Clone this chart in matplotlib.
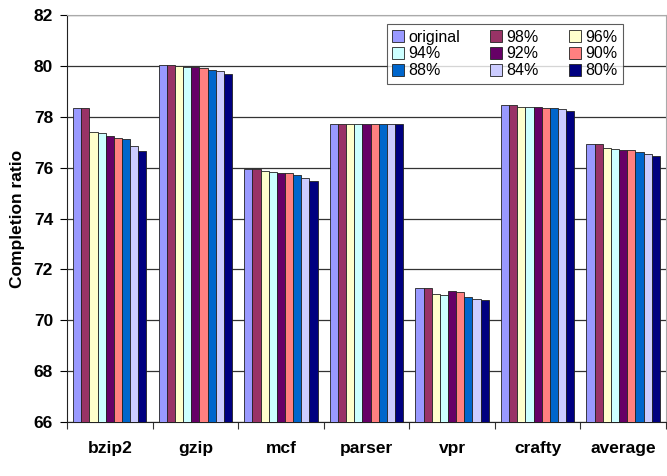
import numpy as np
import matplotlib.pyplot as plt

plt.rcParams['font.family'] = ['Liberation Sans', 'DejaVu Sans']

benchmarks = ['bzip2', 'gzip', 'mcf', 'parser', 'vpr', 'crafty', 'average']
series = ['original', '98%', '96%', '94%', '92%', '90%', '88%', '84%', '80%']
colors = ['#9999FF', '#993366', '#FFFFCC', '#CCFFFF', '#660066',
          '#FF8080', '#0066CC', '#CCCCFF', '#000080']

# completion ratio per benchmark, one list per threshold
original = [78.36, 80.02, 75.93, 77.72, 71.25, 78.45, 76.94]
p98 = [78.36, 80.02, 75.93, 77.72, 71.25, 78.45, 76.94]
p96 = [77.41, 79.99, 75.87, 77.72, 71.05, 78.40, 76.76]
p94 = [77.35, 79.97, 75.84, 77.72, 70.99, 78.37, 76.72]
p92 = [77.26, 79.96, 75.80, 77.72, 71.16, 78.37, 76.71]
p90 = [77.17, 79.93, 75.78, 77.72, 71.12, 78.36, 76.68]
p88 = [77.13, 79.84, 75.71, 77.72, 70.90, 78.33, 76.60]
p84 = [76.85, 79.80, 75.58, 77.72, 70.85, 78.31, 76.54]
p80 = [76.67, 79.68, 75.49, 77.72, 70.79, 78.24, 76.45]
data = [original, p98, p96, p94, p92, p90, p88, p84, p80]

ymin, ymax = 66, 82

fig = plt.figure(figsize=(6.67, 4.76), dpi=100)
ax = fig.add_axes([0.1004, 0.1134, 0.898, 0.8551])

x = np.arange(len(benchmarks))
w = 0.0952
handles = []
for i, (name, vals, c) in enumerate(zip(series, data, colors)):
    pos = x + (i - 4) * w
    h = ax.bar(pos, np.array(vals) - ymin, bottom=ymin, width=w, color=c,
               edgecolor='#222222', linewidth=0.6, label=name, zorder=3)
    handles.append(h)

ax.set_xlim(-0.5, len(benchmarks) - 0.5)
ax.set_ylim(ymin, ymax)
ax.set_yticks(np.arange(ymin, ymax + 1, 2))
ax.yaxis.grid(True, color='#333333', linewidth=0.9, zorder=0)
ax.set_axisbelow(True)

# category labels in the middle, tick marks on group boundaries
ax.set_xticks(x)
ax.set_xticklabels(benchmarks, fontsize=12.5, fontweight='bold')
ax.tick_params(axis='x', length=0, pad=14)
ax.set_xticks(np.arange(-0.5, len(benchmarks)), minor=True)
ax.tick_params(axis='x', which='minor', length=5, width=0.8, color='#333333')
ax.tick_params(axis='y', length=5, width=0.8, labelsize=12.5, pad=5)
for lbl in ax.get_yticklabels():
    lbl.set_fontweight('bold')

for s in ['top', 'right']:
    ax.spines[s].set_color('#aaaaaa')
for s in ['left', 'bottom']:
    ax.spines[s].set_color('#222222')

ax.set_ylabel('Completion ratio', fontsize=12.5, fontweight='bold', labelpad=6)

# legend filled row by row
order = [0, 3, 6, 1, 4, 7, 2, 5, 8]
leg = ax.legend([handles[k] for k in order], [series[k] for k in order],
                ncol=3, loc='upper left', bbox_to_anchor=(0.534, 0.978),
                fontsize=11.5, frameon=True, fancybox=False, edgecolor='#333333',
                handlelength=0.75, handleheight=0.75, handletextpad=0.25,
                columnspacing=1.9, labelspacing=0.12, borderpad=0.35,
                borderaxespad=0)
leg.get_frame().set_linewidth(0.8)

fig.savefig('out.png', dpi=100)
